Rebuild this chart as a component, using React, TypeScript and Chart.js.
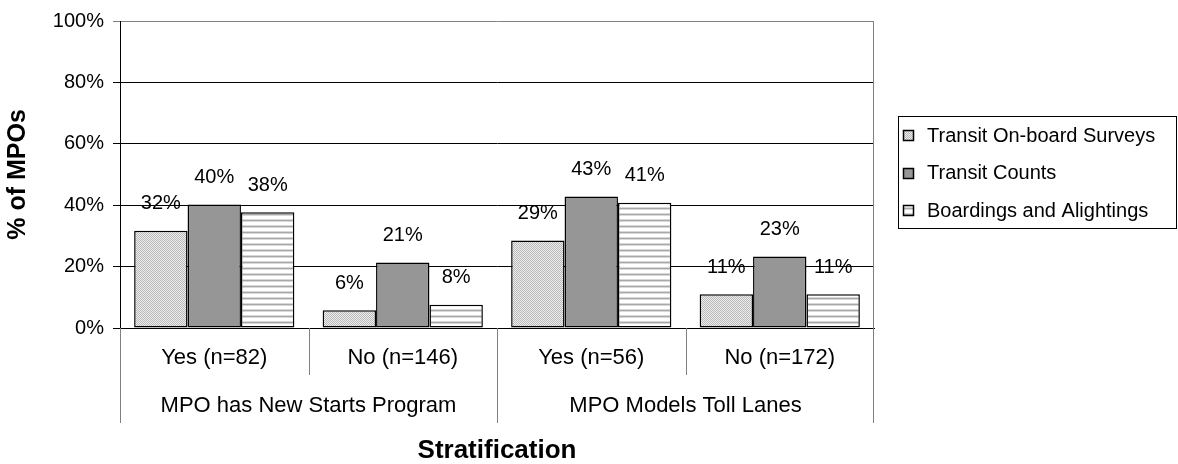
import React, { useEffect, useRef } from 'react';
import { Chart, registerables } from 'chart.js';

Chart.register(...registerables);

const categories = ['Yes (n=82)', 'No (n=146)', 'Yes (n=56)', 'No (n=172)'];
const groups = ['MPO has New Starts Program', 'MPO Models Toll Lanes'];
const seriesNames = ['Transit On-board Surveys', 'Transit Counts', 'Boardings and Alightings'];
const onboardSurveys = [31.7, 5.8, 28.5, 11.0];
const transitCounts = [40.2, 21.3, 42.8, 23.3];
const boardingsAlightings = [37.7, 7.6, 40.8, 11.0];
const yTicks = [0, 20, 40, 60, 80, 100];

const FONT = "'Liberation Sans', Arial, Helvetica, sans-serif";

function makePattern(w: number, h: number, draw: (g: CanvasRenderingContext2D) => void) {
  const c = document.createElement('canvas');
  c.width = w;
  c.height = h;
  const g = c.getContext('2d')!;
  draw(g);
  return g.createPattern(c, 'repeat')!;
}

export default function App() {
  const ref = useRef<HTMLCanvasElement | null>(null);

  useEffect(() => {
    document.body.style.margin = '0';
    const canvas = ref.current!;
    Chart.defaults.font.family = FONT;

    const dotted = makePattern(2, 2, (g) => {
      g.fillStyle = '#eeeeee';
      g.fillRect(0, 0, 2, 2);
      g.fillStyle = '#b8b8b8';
      g.fillRect(0, 0, 1, 1);
      g.fillRect(1, 1, 1, 1);
    });
    const striped = makePattern(4, 6, (g) => {
      g.fillStyle = '#ffffff';
      g.fillRect(0, 0, 4, 6);
      g.fillStyle = '#d8d8d8';
      g.fillRect(0, 3, 4, 1);
      g.fillStyle = '#a8a8a8';
      g.fillRect(0, 4, 4, 1);
      g.fillStyle = '#d8d8d8';
      g.fillRect(0, 5, 4, 1);
    });
    const fills: (string | CanvasPattern)[] = [dotted, '#969696', striped];

    const decor = {
      id: 'decor',
      afterDatasetsDraw(chart: any) {
        const ctx = chart.ctx;
        ctx.save();
        ctx.font = `20px ${FONT}`;
        ctx.fillStyle = '#000';
        ctx.textAlign = 'center';
        ctx.textBaseline = 'middle';
        chart.data.datasets.forEach((ds: any, di: number) => {
          const meta = chart.getDatasetMeta(di);
          meta.data.forEach((bar: any, i: number) => {
            const v = ds.data[i];
            ctx.fillText(Math.round(v) + '%', bar.x, bar.y - 27);
          });
        });
        ctx.restore();
      },
      afterDraw(chart: any) {
        const ctx = chart.ctx;
        const area = chart.chartArea;
        const xs = chart.scales.x;
        ctx.save();
        // right plot border
        ctx.strokeStyle = '#808080';
        ctx.lineWidth = 1;
        ctx.beginPath();
        const rx = Math.round(area.right) - 0.5;
        ctx.moveTo(rx, area.top);
        ctx.lineTo(rx, area.bottom);
        ctx.stroke();

        // category separators
        const n = categories.length;
        const c0 = xs.getPixelForValue(0);
        const c1 = xs.getPixelForValue(1);
        const cw = c1 - c0;
        const bounds: number[] = [];
        for (let i = 0; i <= n; i++) bounds.push(c0 - cw / 2 + i * cw);
        ctx.strokeStyle = '#808080';
        bounds.forEach((b, i) => {
          const long = i % 2 === 0;
          const x = Math.round(b) + (i === n ? -0.5 : 0.5);
          ctx.beginPath();
          ctx.moveTo(x, area.bottom);
          ctx.lineTo(x, area.bottom + (long ? 95 : 47));
          ctx.stroke();
        });

        // group labels
        ctx.font = `22px ${FONT}`;
        ctx.fillStyle = '#000';
        ctx.textAlign = 'center';
        ctx.textBaseline = 'middle';
        groups.forEach((g, gi) => {
          const cx = (bounds[gi * 2] + bounds[gi * 2 + 2]) / 2;
          ctx.fillText(g, cx, area.bottom + 78);
        });

        // legend
        const lx = Math.round(area.right) + 24.5;
        const ly = 116.5;
        const lw = 278;
        const lh = 112;
        ctx.fillStyle = '#fff';
        ctx.fillRect(lx, ly, lw, lh);
        ctx.strokeStyle = '#000';
        ctx.lineWidth = 1;
        ctx.strokeRect(lx, ly, lw, lh);
        ctx.font = `20px ${FONT}`;
        ctx.textAlign = 'left';
        chart.data.datasets.forEach((ds: any, i: number) => {
          const cy = ly + 18.5 + i * 37.5;
          const sx = lx + 5;
          const sy = Math.round(cy - 5) + 0.5;
          ctx.fillStyle = ds.backgroundColor;
          ctx.fillRect(sx, sy, 10, 10);
          ctx.strokeStyle = '#000';
          ctx.lineWidth = 1.5;
          ctx.strokeRect(sx, sy, 10, 10);
          ctx.fillStyle = '#000';
          ctx.fillText(ds.label, lx + 28.5, cy + 1);
        });
        ctx.restore();
      },
    };

    const seriesData = [onboardSurveys, transitCounts, boardingsAlightings];

    const chart = new Chart(canvas, {
      type: 'bar',
      data: {
        labels: categories,
        datasets: seriesData.map((d, i) => ({
          label: seriesNames[i],
          data: d,
          backgroundColor: fills[i] as any,
          borderColor: '#000',
          borderWidth: 1.5,
          borderSkipped: false,
          categoryPercentage: 0.85,
          barPercentage: 1.0,
        })),
      },
      options: {
        animation: false,
        responsive: false,
        devicePixelRatio: 1,
        layout: { padding: { top: 20, right: 304, bottom: 0, left: 0 } },
        plugins: {
          legend: { display: false },
          tooltip: { enabled: false },
        },
        scales: {
          x: {
            grid: { display: false, drawTicks: false },
            border: { display: true, color: '#000', width: 1 },
            ticks: {
              color: '#000',
              font: { size: 22 },
              padding: 17,
              maxRotation: 0,
              autoSkip: false,
            },
            title: {
              display: true,
              text: 'Stratification',
              color: '#000',
              font: { size: 26, weight: 'bold', lineHeight: 1 },
              padding: 0,
            },
            afterFit: (s: any) => {
              s.height = 136;
            },
          },
          y: {
            min: 0,
            max: 100,
            afterBuildTicks: (s: any) => {
              s.ticks = yTicks.map((v) => ({ value: v }));
            },
            ticks: {
              color: '#000',
              font: { size: 20 },
              padding: 9,
              callback: (v: any) => v + '%',
            },
            grid: {
              color: (c: any) => (c.tick && c.tick.value === 100 ? '#808080' : '#000'),
              tickLength: 7,
              drawTicks: true,
            },
            border: { display: true, color: '#000', width: 1 },
            title: {
              display: true,
              text: '% of MPOs',
              color: '#000',
              font: { size: 25, weight: 'bold', lineHeight: 1 },
              padding: { top: 6, bottom: 0 },
            },
            afterFit: (s: any) => {
              s.width = 120;
            },
          },
        },
      } as any,
      plugins: [decor],
    });

    return () => chart.destroy();
  }, []);

  return (
    <div style={{ width: 1178, height: 464, position: 'relative' }}>
      <canvas ref={ref} width={1178} height={464} style={{ display: 'block' }} />
    </div>
  );
}
